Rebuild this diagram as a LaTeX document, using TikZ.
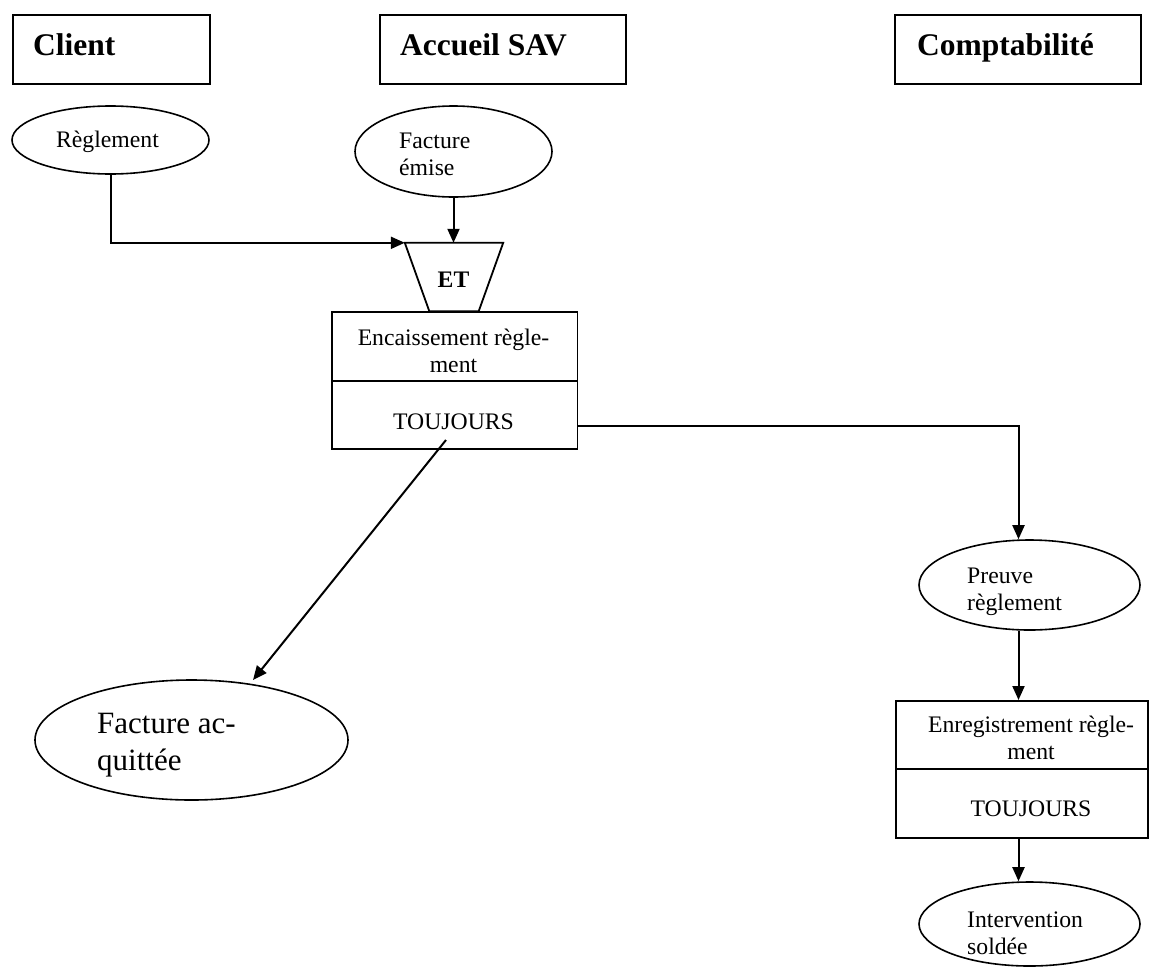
\documentclass[tikz,border=0pt]{standalone}
\usepackage{fontspec}
\setmainfont{Liberation Serif}
\usetikzlibrary{shapes.geometric,arrows.meta}
\newcommand\mytop[2]{\parbox[t]{#1}{#2}}
\begin{document}
\begin{tikzpicture}[x=1pt,y=-1pt,
  reg/.style={font=\fontsize{23.7}{27}\selectfont, inner sep=0pt},
  big/.style={font=\fontsize{31}{37}\selectfont, inner sep=0pt},
  hd/.style={font=\fontsize{31.5}{36}\selectfont\bfseries, inner sep=0pt, anchor=base west},
  hbox/.style={draw, line width=1.8pt, anchor=north west, inner sep=0pt},
  ell/.style={draw, ellipse, line width=1.6pt, inner sep=0pt},
  pbox/.style={draw, line width=1.8pt, anchor=north west, inner sep=0pt},
  arr/.style={line width=2pt, -{Triangle[length=14pt,width=12pt]}}]
\useasboundingbox (0,0) rectangle (1150,969);

% headers
\node[hbox, minimum width=197pt, minimum height=69pt] (client) at (12,14) {};
\node[hd] (tclient) at (33,55) {Client};
\node[hbox, minimum width=246pt, minimum height=69pt] (accueil) at (379,14) {};
\node[hd] (taccueil) at (400,55) {Accueil SAV};
\node[hbox, minimum width=246pt, minimum height=69pt] (compta) at (894,14) {};
\node[hd] (tcompta) at (917,55) {Comptabilité};

% events
\node[ell, minimum width=197pt, minimum height=68pt] (regl) at (110.5,140) {};
\node[reg, anchor=base] (tregl) at (107.5,147) {Règlement};
\node[ell, minimum width=197pt, minimum height=91pt] (fem) at (453.5,151.5) {};
\node[reg, anchor=base west] (tfem) at (399,148) {\mytop{150pt}{Facture\\émise}};

% synchronisation ET
\node[minimum width=98pt, minimum height=68pt, inner sep=0pt] (et) at (454,277) {};
\draw[line width=1.8pt] (et.north west) -- (et.north east) -- ([xshift=-24.5pt]et.south east) -- ([xshift=24.5pt]et.south west) -- cycle;
\node[font=\fontsize{23.7}{27}\selectfont\bfseries, inner sep=0pt, anchor=base] (tet) at (453.5,287) {ET};

% operation 1
\node[pbox, minimum width=245.5pt, minimum height=69pt] (enc) at (331,311) {};
\node[pbox, minimum width=245.5pt, minimum height=68pt] (enct) at (331,380) {};
\node[reg, anchor=base] (tenc) at (453.5,345) {\mytop{240pt}{\centering Encaissement règle-\\ment}};
\node[reg, anchor=base] (tenct) at (453.5,429) {TOUJOURS};

% result events / operation 2
\node[ell, minimum width=313pt, minimum height=120pt] (facq) at (191.5,740) {};
\node[big, anchor=base west] (tfacq) at (97,733) {\mytop{200pt}{Facture ac-\\quittée}};

\node[ell, minimum width=221pt, minimum height=90pt] (preuve) at (1029.5,585) {};
\node[reg, anchor=base west] (tpreuve) at (967,583) {\mytop{150pt}{Preuve\\règlement}};

\node[pbox, minimum width=252pt, minimum height=68pt] (enr) at (895,700) {};
\node[pbox, minimum width=252pt, minimum height=69pt] (enrt) at (895,768) {};
\node[reg, anchor=base] (tenr) at (1031,732) {\mytop{250pt}{\centering Enregistrement règle-\\ment}};
\node[reg, anchor=base] (tenrt) at (1031,816) {TOUJOURS};

\node[ell, minimum width=221pt, minimum height=84pt] (interv) at (1029.5,924) {};
\node[reg, anchor=base west] (tinterv) at (967,927) {\mytop{150pt}{Intervention\\soldée}};

% connectors
\coordinate (c3) at (1018.5,426);
\coordinate (d0) at (446,440);
\coordinate (d1) at (253,680);
\draw[arr] (regl.south) |- (et.north west);
\draw[arr] (fem.south) -- (fem.south |- et.north);
\draw[arr] (d0) -- (d1);
\draw[arr] (enct.east |- c3) -| (c3 |- preuve.north);
\draw[arr] (c3 |- preuve.south) -- (c3 |- enr.north);
\draw[arr] (c3 |- enrt.south) -- (c3 |- interv.north);
\end{tikzpicture}
\end{document}
